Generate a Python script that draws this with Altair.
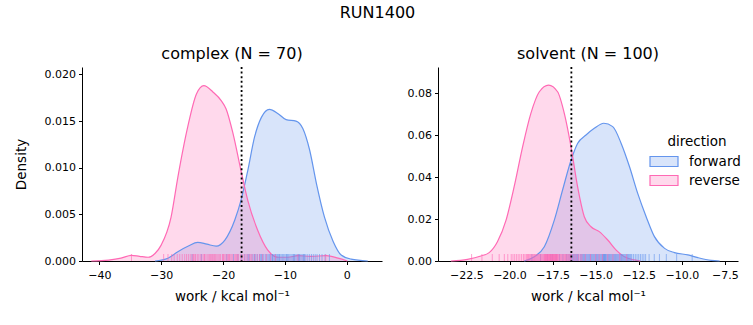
import altair as alt
import pandas as pd

# ---- data ----
directions = ["forward", "reverse"]
colors = ["#6495ED", "#FF69B4"]
fill_colors = ["rgba(100,149,237,0.25)", "rgba(255,105,180,0.25)"]

# complex panel KDE curves
cf_x = [-31.0, -28.9, -27.3, -25.6, -24.1, -22.6, -21.1, -19.7, -18.1, -17.1, -16.0, -14.9, -13.8, -12.5,
        -11.1, -9.8, -8.2, -7.1, -6.0, -4.9, -3.6, -2.2, -0.9, 0.7, 3.4]
cf_y = [0, 0.0003, 0.0010, 0.0016, 0.0020, 0.0018, 0.0016, 0.00225, 0.0044, 0.0065, 0.0097, 0.0133, 0.0154,
        0.01626, 0.0158, 0.01515, 0.0150, 0.0142, 0.0119, 0.0083, 0.0047, 0.0021, 0.00064, 0.0002, 0]
cr_x = [-41.3, -38.5, -36.5, -34.8, -33.5, -32.1, -31.0, -30.0, -28.4, -27.3, -25.7, -24.3, -23.1, -21.6,
        -20.3, -19.5, -18.4, -17.1, -16.0, -14.4, -12.8, -11.1, -9.5, -7.9, -5.8, -3.3, -1.4, 0.1]
cr_y = [0, 0.0001, 0.0003, 0.0006, 0.0005, 0.0004, 0.0008, 0.0017, 0.0047, 0.0090, 0.0144, 0.0179, 0.0188,
        0.0181, 0.0172, 0.0163, 0.0137, 0.0097, 0.0065, 0.0033, 0.0012, 0.0004, 0.0004, 0.00057, 0.0005,
        0.00057, 0.0003, 0]

# solvent panel KDE curves
sf_x = [-19.15, -18.56, -17.98, -17.4, -16.92, -16.43, -16.05, -15.56, -15.08, -14.53, -14.01, -13.52,
        -13.04, -12.56, -12.07, -11.59, -11.0, -10.43, -9.65, -9.07, -8.3, -7.8]
sf_y = [0, 0.002, 0.0068, 0.0195, 0.0338, 0.048, 0.056, 0.060, 0.0632, 0.0656, 0.064, 0.056, 0.045, 0.0322,
        0.0211, 0.0116, 0.006, 0.004, 0.0029, 0.0016, 0.0003, 0]
sr_x = [-23.4, -22.44, -21.66, -21.18, -20.7, -20.2, -19.73, -19.24, -18.76, -18.27, -17.73, -17.21, -16.82,
        -16.43, -16.05, -15.66, -15.27, -14.79, -14.3, -13.81, -13.33, -12.75, -12.4]
sr_y = [0, 0.0008, 0.0024, 0.004, 0.0092, 0.0195, 0.0354, 0.0544, 0.0703, 0.0806, 0.0838, 0.0806, 0.0703,
        0.0544, 0.0354, 0.0211, 0.0163, 0.014, 0.010, 0.0052, 0.002, 0.0005, 0]

# rug samples
rug_cr = [-34.8, -29.6, -28.9, -28.3, -27.9, -27.4, -27.0, -26.6, -26.2, -25.9, -25.6, -25.3, -25.0, -24.7,
          -24.4, -24.1, -23.9, -23.6, -23.4, -23.1, -22.9, -22.6, -22.4, -22.2, -21.9, -21.7, -21.5, -21.2,
          -21.0, -20.8, -20.6, -20.4, -20.1, -19.9, -19.7, -19.5, -19.3, -19.1, -18.9, -18.7, -18.5, -18.2,
          -18.0, -17.7, -17.5, -17.2, -16.9, -16.6, -16.3, -16.0, -15.7, -15.3, -14.9, -14.5, -14.1, -13.6,
          -13.0, -12.3, -11.5, -7.9, -3.4, -24.8, -22.0, -19.0, -17.8, -15.5, -23.0, -21.4, -20.0, -24.5]
rug_cf = [-25.0, -23.5, -19.4, -18.3, -17.6, -17.0, -16.5, -16.1, -15.7, -15.3, -15.0, -14.7, -14.4, -14.1,
          -13.9, -13.6, -13.4, -13.1, -12.9, -12.7, -12.5, -12.3, -12.1, -11.9, -11.7, -11.4, -11.2, -11.0,
          -10.8, -10.6, -10.4, -10.2, -10.0, -9.8, -9.6, -9.4, -9.2, -9.0, -8.8, -8.6, -8.4, -8.2, -8.0, -7.8,
          -7.6, -7.4, -7.2, -7.0, -6.8, -6.6, -6.3, -6.0, -5.7, -5.4, -5.1, -4.8, -4.4, -4.0, -3.5, -2.8,
          -13.8, -12.0, -10.9, -9.7, -8.5, -7.7, -14.9, -11.5, -6.9, -15.9]
rug_sr = [-22.2, -21.6, -21.0, -20.6, -20.3, -20.1, -19.9, -19.7, -19.6, -19.4, -19.3, -19.2, -19.0, -18.9,
          -18.8, -18.7, -18.6, -18.5, -18.4, -18.3, -18.2, -18.1, -18.0, -17.95, -17.9, -17.85, -17.8, -17.75,
          -17.7, -17.65, -17.6, -17.55, -17.5, -17.45, -17.4, -17.35, -17.3, -17.25, -17.2, -17.1, -17.0,
          -16.9, -16.8, -16.7, -16.6, -16.5, -16.4, -16.3, -16.2, -16.0, -15.8, -15.6, -15.3, -15.0, -14.8,
          -14.6, -14.3, -14.0, -13.6, -13.2, -19.8, -19.5, -19.15, -18.95, -18.85, -18.65, -18.55, -18.45,
          -18.35, -18.25, -18.15, -18.05, -17.98, -17.92, -17.88, -17.82, -17.78, -17.72, -17.68, -17.62,
          -17.58, -17.52, -17.48, -17.42, -17.38, -17.32, -17.28, -17.22, -17.15, -17.05, -16.95, -16.85,
          -16.75, -16.65, -16.55, -16.45, -16.1, -15.9, -19.05, -18.75]
rug_sf = [-18.7, -18.2, -17.8, -17.5, -17.3, -17.1, -16.9, -16.7, -16.6, -16.5, -16.4, -16.3, -16.2, -16.1,
          -16.0, -15.9, -15.8, -15.7, -15.6, -15.5, -15.4, -15.3, -15.2, -15.1, -15.0, -14.9, -14.8, -14.7,
          -14.6, -14.5, -14.4, -14.3, -14.2, -14.1, -14.0, -13.9, -13.8, -13.7, -13.6, -13.5, -13.4, -13.3,
          -13.2, -13.1, -13.0, -12.9, -12.7, -12.5, -12.3, -12.1, -11.9, -11.6, -11.3, -10.9, -10.3, -9.4,
          -16.45, -16.25, -16.05, -15.85, -15.65, -15.45, -15.35, -15.25, -15.15, -15.05, -14.95, -14.85,
          -14.75, -14.65, -14.55, -14.45, -14.35, -14.25, -14.15, -14.05, -13.95, -13.85, -13.75, -13.65,
          -13.55, -13.45, -13.35, -13.25, -13.15, -12.8, -12.6, -12.4, -12.2, -14.52, -14.48, -14.58, -14.42,
          -15.55, -15.75, -13.05, -12.95, -16.15, -16.35, -17.6]

complex_mean_line = -17.0
solvent_mean_line = -16.41

complex_xticks = [-40, -30, -20, -10, 0]
complex_yticks = [0.0, 0.005, 0.010, 0.015, 0.020]
solvent_xticks = [-22.5, -20.0, -17.5, -15.0, -12.5, -10.0, -7.5]
solvent_yticks = [0.0, 0.02, 0.04, 0.06, 0.08]

PW, PH = 300, 194
FONT = "DejaVu Sans"
MINUS = "replace(datum.label, '-', '\u2212')"


def curves(fx, fy, rx, ry):
    return pd.concat([
        pd.DataFrame({"work": fx, "density": fy, "direction": "forward"}),
        pd.DataFrame({"work": rx, "density": ry, "direction": "reverse"}),
    ])


def rugs(f, r):
    return pd.concat([
        pd.DataFrame({"work": f, "direction": "forward"}),
        pd.DataFrame({"work": r, "direction": "reverse"}),
    ])


fill_scale = alt.Scale(domain=directions, range=fill_colors)
stroke_scale = alt.Scale(domain=directions, range=colors)
legend_def = alt.Legend(title="direction", orient="none", legendX=571, legendY=68)


def panel(cdf, rdf, vline, xdom, ydom, xticks, yticks, xfmt, yfmt, title, ytitle):
    xenc = alt.X("work:Q", scale=alt.Scale(domain=xdom, nice=False, zero=False),
                 axis=alt.Axis(values=xticks, format=xfmt, labelExpr=MINUS, title="work / kcal mol⁻¹"))
    yenc = alt.Y("density:Q", stack=None, scale=alt.Scale(domain=ydom, nice=False),
                 axis=alt.Axis(values=yticks, format=yfmt, title=ytitle))
    base = alt.Chart(cdf)
    area = base.mark_area(interpolate="monotone").encode(
        x=xenc, y=yenc,
        fill=alt.Fill("direction:N", scale=fill_scale, legend=legend_def),
    )
    line = base.mark_line(strokeWidth=1.2, interpolate="monotone").encode(
        x=xenc, y=yenc,
        stroke=alt.Stroke("direction:N", scale=stroke_scale, legend=legend_def),
    )
    rug = alt.Chart(rdf).mark_rule(strokeWidth=1, opacity=0.6).encode(
        x=alt.X("work:Q"),
        y=alt.value(PH), y2=alt.value(PH - 7),
        color=alt.Color("direction:N", scale=stroke_scale, legend=None),
    )
    vl = alt.Chart(pd.DataFrame({"work": [vline]})).mark_rule(
        color="black", strokeWidth=1.8, strokeDash=[2, 2.6]).encode(x="work:Q")
    return alt.layer(area, line, rug, vl).properties(
        width=PW, height=PH, title=title)


left = panel(curves(cf_x, cf_y, cr_x, cr_y), rugs(rug_cf, rug_cr), complex_mean_line,
             [-42.8, 5.7], [0, 0.0208], complex_xticks, complex_yticks, "d", ".3f",
             "complex (N = 70)", "Density")
right = panel(curves(sf_x, sf_y, sr_x, sr_y), rugs(rug_sf, rug_sr), solvent_mean_line,
              [-24.15, -6.74], [0, 0.0924], solvent_xticks, solvent_yticks, ".1f", ".2f",
              "solvent (N = 100)", "")

chart = alt.hconcat(left, right, spacing=25).properties(
    title=alt.TitleParams("RUN1400", anchor="middle", fontSize=16, font=FONT,
                          fontWeight="normal", offset=25),
    padding={"left": 14, "top": 5, "right": 5, "bottom": 5},
).configure_view(stroke=None).configure_axis(
    labelFont=FONT, titleFont=FONT, labelFontSize=11, titleFontSize=13.5,
    labelColor="black", titleColor="black", domainColor="black", tickColor="black",
    grid=False, tickSize=3.5, titleFontWeight="normal", labelPadding=3,
).configure_axisX(titlePadding=9, labelPadding=5).configure_axisY(titlePadding=16).configure_title(
    font=FONT, fontSize=16, fontWeight="normal", color="black",
).configure_legend(
    titleFont=FONT, labelFont=FONT, titleFontSize=13.5, labelFontSize=13.5,
    titleFontWeight="normal", labelColor="black", titleColor="black",
    symbolType="M-1.4,-0.5H1.4V0.5H-1.4Z", symbolSize=400, symbolStrokeWidth=1.2,
    titleAnchor="middle", labelOffset=14, rowPadding=0, titlePadding=2,
)

chart.save("out.html", embed_options={"renderer": "svg", "actions": False})
